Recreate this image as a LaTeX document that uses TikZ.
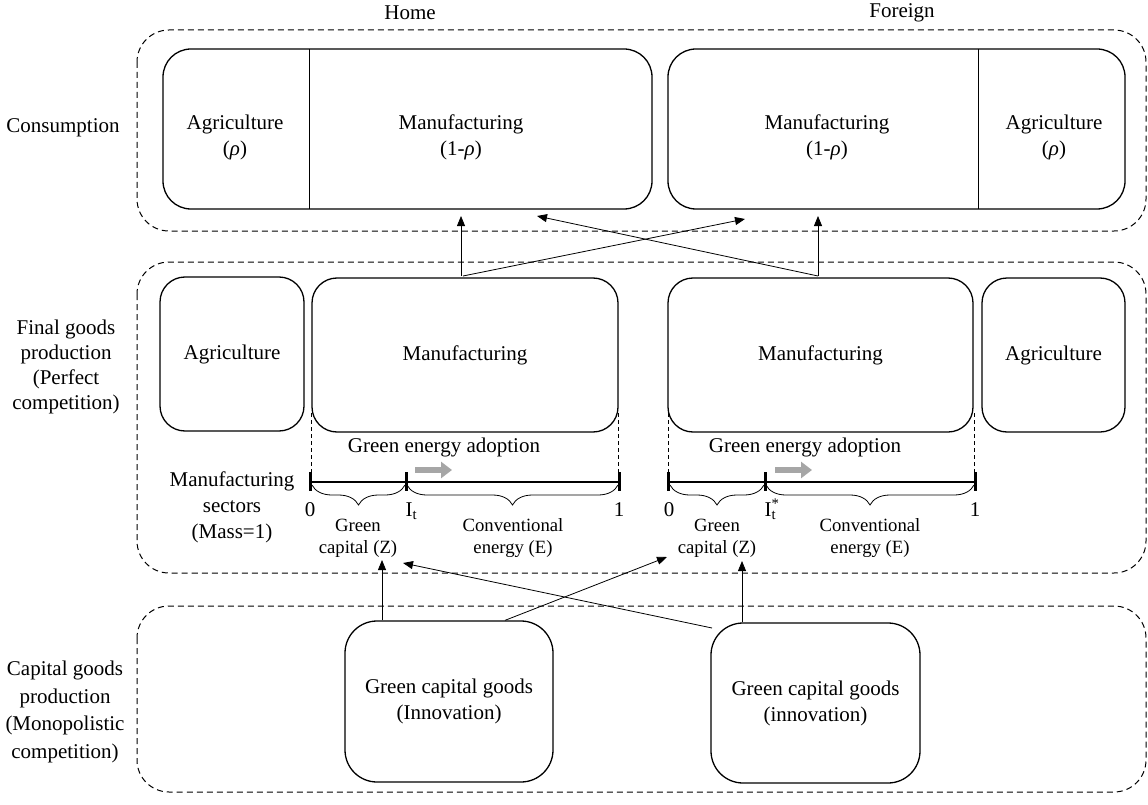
\documentclass[tikz,border=0pt]{standalone}
\usepackage{fontspec}
\setmainfont{Liberation Serif}
\usetikzlibrary{positioning}
\usetikzlibrary{arrows.meta,decorations.pathreplacing}

\begin{document}
\begin{tikzpicture}[x=1pt,y=-1pt,
    f/.style={-{Triangle[length=10pt,width=8pt]},line width=0.8pt},%
    grp/.style={dash pattern=on 6pt off 4pt,line width=1pt,rounded corners=32pt},%
    b/.style={draw,line width=1.3pt,rounded corners=28pt,inner sep=0pt,align=center,font=\fontsize{21}{26}\selectfont},%
    t/.style={align=center,font=\fontsize{21}{26}\selectfont},%
    sm/.style={align=center,font=\fontsize{18.7}{22}\selectfont},%
    guide/.style={dash pattern=on 4pt off 3pt,line width=0.8pt},%
    g/.style={black!35,line width=6pt,-{Triangle[length=11pt,width=16pt]}},%
    br/.style={decorate,decoration={brace,mirror,amplitude=20pt},line width=0.8pt}]
    \useasboundingbox (0,0) rectangle (1148,805);

    % the three levels
    \draw[grp] (137,30) rectangle (1146,231);
    \draw[grp] (137,262) rectangle (1146,573);
    \draw[grp] (137,606) rectangle (1146,792);
    \node[t] (cons) at (63,128) {Consumption};
    \node[t,font=\fontsize{21}{25}\selectfont] (final) at (66,367) {Final goods\\production\\(Perfect\\competition)};
    \node[t,font=\fontsize{21}{27.5}\selectfont] (capg) at (65,712) {Capital goods\\production\\(Monopolistic\\competition)};
    \node[t] (home) at (410,13) {Home};
    \node[t] (foreign) at (902,13) {Foreign};

    % consumption
    \node[b,minimum width=489pt,minimum height=160pt] (homeC) at (407.5,129) {};
    \draw[line width=0.8pt] (309,49) -- (309,209);
    \node[t] (homeCA) at (235,137) {Agriculture\\(\textit{ρ})};
    \node[t] (homeCM) at (461,137) {Manufacturing\\(1-\textit{ρ})};
    \node[b,minimum width=457pt,minimum height=160pt] (forC) at (896.5,129) {};
    \draw[line width=0.8pt] (978,49) -- (978,209);
    \node[t] (forCM) at (827,137) {Manufacturing\\(1-\textit{ρ})};
    \node[t] (forCA) at (1054,137) {Agriculture\\(\textit{ρ})};

    % final goods
    \node[b,rounded corners=25pt,minimum width=144pt,minimum height=154pt] (homeFA) at (232,354) {Agriculture};
    \node[b,rounded corners=25pt,minimum width=306pt,minimum height=154pt] (homeFM) at (465,355) {Manufacturing};
    \node[b,rounded corners=25pt,minimum width=305pt,minimum height=154pt] (forFM) at (820.5,355) {Manufacturing};
    \node[b,rounded corners=25pt,minimum width=143pt,minimum height=154pt] (forFA) at (1053.5,355) {Agriculture};

    \draw[guide] (311,413) -- (311,472);
    \draw[guide] (618,413) -- (618,472);
    \draw[guide] (668,413) -- (668,472);
    \draw[guide] (974,413) -- (974,472);

    \node[t] (hAdopt) at (444,447) {Green energy adoption};
    \node[t] (fAdopt) at (805,447) {Green energy adoption};
    \draw[g] (415,470) -- (452,470);
    \draw[g] (775,470) -- (812,470);
    \node[t] (sectors) at (232,507) {Manufacturing\\sectors\\(Mass=1)};

    % home sector line
    \draw[line width=1.6pt] (310,482) -- (619,482);
    \foreach \x in {310,406,619} \draw[line width=3pt] (\x,472) -- (\x,491);
    \draw[br] (312,485) -- (405,485);
    \draw[br] (407,485) -- (618,485);
    \node[t,anchor=base] (h0) at (310,516) {0};
    \node[t,anchor=base west] (hI) at (402,516) {I\textsubscript{t}};
    \node[t,anchor=base] (h1) at (619,516) {1};
    \node[sm] (hZ) at (358,538) {Green\\capital (Z)};
    \node[sm] (hE) at (513,538) {Conventional\\energy (E)};

    % foreign sector line
    \draw[line width=1.6pt] (668,482) -- (975,482);
    \foreach \x in {668,765,975} \draw[line width=3pt] (\x,472) -- (\x,491);
    \draw[br] (670,485) -- (764,485);
    \draw[br] (766,485) -- (974,485);
    \node[t,anchor=base] (f0) at (669,516) {0};
    \node[t,anchor=base west] (fI) at (761,516) {I\makebox[0.4em][l]{\rlap{\textsubscript{t}}\textsuperscript{*}}};
    \node[t,anchor=base] (f1) at (975,516) {1};
    \node[sm] (fZ) at (717,538) {Green\\capital (Z)};
    \node[sm] (fE) at (870,538) {Conventional\\energy (E)};

    % capital goods
    \node[b,rounded corners=32pt,minimum width=208pt,minimum height=161pt] (homeK) at (449,701.5) {Green capital goods\\(Innovation)};
    \node[b,rounded corners=32pt,minimum width=209pt,minimum height=160pt] (forK) at (815.5,703) {Green capital goods\\(innovation)};

    % trade flows
    \coordinate (hS) at (463,276);
    \coordinate (fS) at (818,276);
    \coordinate (hUp) at (461,216);
    \coordinate (hX) at (745,219);
    \coordinate (fUp) at (818,216);
    \coordinate (fX) at (537,216);
    \draw[f] (hS -| hUp) -- (hUp);
    \draw[f] (hS) -- (hX);
    \draw[f] (fS) -- (fUp);
    \draw[f] (fS) -- (fX);

    \coordinate (kUp) at (382,560);
    \coordinate (kX) at (667,557);
    \coordinate (lUp) at (742,561);
    \coordinate (lX) at (403,563);
    \draw[f] (homeK.north -| kUp) -- (kUp);
    \draw[f] ([xshift=56pt]homeK.north) -- (kX);
    \draw[f] (forK.north -| lUp) -- (lUp);
    \draw[f] (712,628) -- (lX);

\end{tikzpicture}
\end{document}
